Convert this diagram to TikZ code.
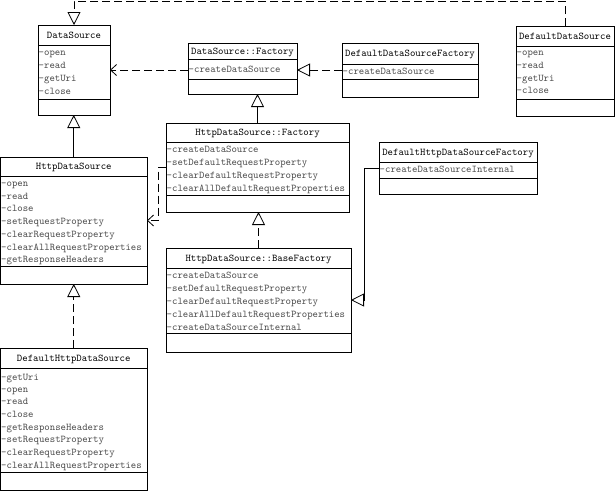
\documentclass[tikz,border=0pt]{standalone}
\usepackage{fontspec}
\usetikzlibrary{arrows.meta,fit,calc}
\definecolor{membergray}{HTML}{4a4a4a}
\tikzset{
  classbox/.style={draw=black, line width=0.8pt, inner sep=0pt, outer sep=0pt},
  divider/.style={draw=black, line width=0.8pt},
  titletext/.style={font=\ttfamily\fontsize{10.3}{12}\selectfont, text=black, inner sep=0pt, text height=8pt, text depth=2pt},
  membertext/.style={font=\ttfamily\fontsize{10.3}{12}\selectfont, text=membergray, inner sep=0pt, anchor=west, text height=8pt, text depth=2pt},
  conn/.style={line width=0.8pt, draw=black},
  dashline/.style={conn, dash pattern=on 8pt off 4pt},
  gen/.style={conn, -{Triangle[length=13pt,width=13pt,fill=white]}},
  realz/.style={dashline, -{Triangle[length=13pt,width=13pt,fill=white]}},
  dep/.style={dashline, -{Straight Barb[length=6pt,width=11pt]}},
}
\newcommand{\umlclass}[8]{%
  \node[classbox, fit={(#2,#3) (#4,#5)}] (#1) {};
  \draw[divider] (#2,#6) -- (#4,#6);
  \draw[divider] (#2,#7) -- (#4,#7);
  \node[titletext] (#1-title) at ($(#2,#3)!0.5!(#4,#6)$) {#8};
}
\newcommand{\umlmembers}[3]{%
  \foreach \yy/\mtext [count=\i] in {#3} {\node[membertext] (#1-m\i) at (#2,\yy) {\mtext};}
}
\begin{document}
\begin{tikzpicture}[x=1pt,y=-1pt]
\useasboundingbox (0,0) rectangle (616,491);

\umlclass{ds}{38}{25}{110}{115}{45}{99}{DataSource}
\umlmembers{ds}{38.5}{52/-open,65/-read,78/-getUri,91/-close}

\umlclass{dsf}{188}{43}{297}{94}{59}{79}{DataSource::Factory}
\umlmembers{dsf}{188.5}{69/-createDataSource}

\umlclass{ddsf}{342}{43}{478}{97}{64}{79}{DefaultDataSourceFactory}
\umlmembers{ddsf}{342.5}{71/-createDataSource}

\umlclass{dds}{516}{26}{614}{116}{46}{99}{DefaultDataSource}
\umlmembers{dds}{516.5}{52/-open,65/-read,78/-getUri,90/-close}

\umlclass{hdsf}{166}{123}{349}{212}{142}{195}{HttpDataSource::Factory}
\umlmembers{hdsf}{166.5}{149/-createDataSource,162/-setDefaultRequestProperty,175/-clearDefaultRequestProperty,188/-clearAllDefaultRequestProperties}

\umlclass{hds}{0.5}{157}{147}{284}{176}{266}{HttpDataSource}
\umlmembers{hds}{1}{183/-open,196/-read,208/-close,221/-setRequestProperty,234/-clearRequestProperty,247/-clearAllRequestProperties,259/-getResponseHeaders}

\umlclass{hbf}{166}{248}{351}{352}{268}{333}{HttpDataSource::BaseFactory}
\umlmembers{hbf}{166.5}{275/-createDataSource,288/-setDefaultRequestProperty,301/-clearDefaultRequestProperty,314/-clearAllDefaultRequestProperties,327/-createDataSourceInternal}

\umlclass{dhsf}{379}{142}{537}{194}{162}{178}{DefaultHttpDataSourceFactory}
\umlmembers{dhsf}{379.5}{169/-createDataSourceInternal}

\umlclass{dhds}{0.5}{348}{147}{490}{368}{472}{DefaultHttpDataSource}
\umlmembers{dhds}{1}{377/-getUri,389/-open,401/-read,414/-close,427/-getResponseHeaders,439/-setRequestProperty,452/-clearRequestProperty,465/-clearAllRequestProperties}

% connectors
\draw[gen] (hds.north) -- (hds.north |- ds.south);
\draw[realz] (dhds.north) -- (dhds.north |- hds.south);
\draw[gen] (hdsf.north) -- (hdsf.north |- dsf.south);
\draw[realz] (hbf.north) -- (hbf.north |- hdsf.south);
\draw[realz] (ddsf.west) -- (ddsf.west -| dsf.east);
\draw[dep] (ds.east -| dsf.west) -- (ds.east);
\draw[dep] (hdsf.west) -- ++(-8,0) |- (hds.east);
\draw[gen] (dhsf.west) -- ++(-15,0) |- (hbf.east);
\draw[realz] (dds.north) -- ++(0,-25) -| (ds.north);
\end{tikzpicture}
\end{document}
